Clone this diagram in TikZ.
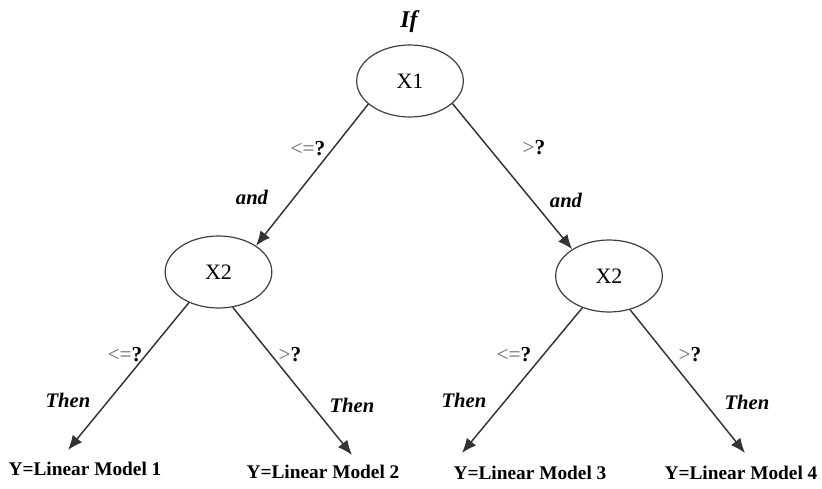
\documentclass[tikz,border=0pt]{standalone}
\usepackage{fontspec}
\setmainfont{Liberation Serif}
\usetikzlibrary{shapes.geometric,arrows.meta}
\begin{document}
\begin{tikzpicture}[x=0.75pt,y=-0.75pt,
  decision/.style={ellipse, draw=black!75, line width=0.9pt,
    minimum width=80pt, minimum height=54pt, inner sep=0pt,
    font=\fontsize{16.5}{18}\selectfont},
  leaf/.style={inner sep=1pt, font=\bfseries\fontsize{14.5}{16}\selectfont},
  kw/.style={inner sep=1pt, font=\bfseries\itshape\fontsize{15.5}{17}\selectfont},
  cond/.style={inner sep=1pt, font=\fontsize{16}{18}\selectfont},
  arr/.style={draw=black!80, line width=1.1pt,
    -{Latex[length=11pt,width=9pt]}}]
\useasboundingbox (0,0) rectangle (822,489);

% split nodes
\node[decision] (x1)  at (410,81)    {X1};
\node[decision] (x2l) at (218.5,272) {X2};
\node[decision] (x2r) at (609,276)   {X2};

% leaves
\node[leaf] (m1) at (85,469)  {Y=Linear Model 1};
\node[leaf] (m2) at (323,472) {Y=Linear Model 2};
\node[leaf] (m3) at (530,473) {Y=Linear Model 3};
\node[leaf] (m4) at (741,473) {Y=Linear Model 4};

% arrow tips above the leaves
\coordinate (t1) at (68,450);
\coordinate (t2) at (352,455);
\coordinate (t3) at (462,453);
\coordinate (t4) at (745,453);

% connectors
\draw[arr] (x1.209) -- (x2l.35);
\draw[arr] (x1.332) -- (x2r.144);
\draw[arr] (x2l.226) -- (t1);
\draw[arr] (x2l.292) -- (t2);
\draw[arr] (x2r.230) -- (t3);
\draw[arr] (x2r.302) -- (t4);

% keywords
\node[kw, font=\bfseries\itshape\fontsize{18}{20}\selectfont] (kif) at (409,22) {If};
\node[kw] (ka1) at (252,197) {and};
\node[kw] (ka2) at (566,200) {and};
\node[kw] (kt1) at (68,400)  {Then};
\node[kw] (kt2) at (352,405) {Then};
\node[kw] (kt3) at (464,400) {Then};
\node[kw] (kt4) at (747,402) {Then};

% split conditions
\node[cond] (c1) at (308,149) {{\color{black!60}<=}\textbf{?}};
\node[cond] (c2) at (534,148) {{\color{black!60}>}\textbf{?}};
\node[cond] (c3) at (125,355) {{\color{black!60}<=}\textbf{?}};
\node[cond] (c4) at (290,355) {{\color{black!60}>}\textbf{?}};
\node[cond] (c5) at (514,355) {{\color{black!60}<=}\textbf{?}};
\node[cond] (c6) at (690,355) {{\color{black!60}>}\textbf{?}};
\end{tikzpicture}
\end{document}
